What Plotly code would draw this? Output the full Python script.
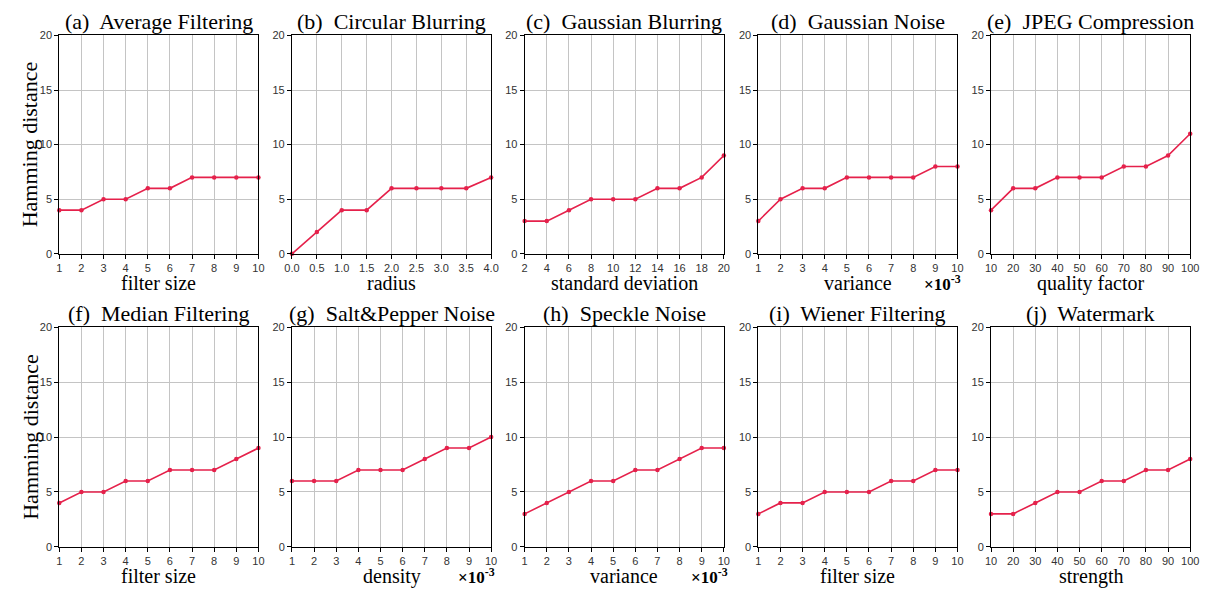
import plotly.graph_objects as go

W, H = 1212, 592

titles = ["(a)\u00a0 Average Filtering", "(b)\u00a0 Circular Blurring", "(c)\u00a0 Gaussian Blurring",
          "(d)\u00a0 Gaussian Noise", "(e)\u00a0 JPEG Compression", "(f)\u00a0 Median Filtering",
          "(g)\u00a0 Salt&amp;Pepper Noise", "(h)\u00a0 Speckle Noise", "(i)\u00a0 Wiener Filtering",
          "(j)\u00a0 Watermark"]
xlabels = ["filter size", "radius", "standard deviation", "variance", "quality factor",
           "filter size", "density", "variance", "filter size", "strength"]
scaled = [False, False, False, True, False, False, True, True, False, False]

x_a = [1, 2, 3, 4, 5, 6, 7, 8, 9, 10]
x_b = [0.0, 0.5, 1.0, 1.5, 2.0, 2.5, 3.0, 3.5, 4.0]
x_c = [2, 4, 6, 8, 10, 12, 14, 16, 18, 20]
x_d = [1, 2, 3, 4, 5, 6, 7, 8, 9, 10]
x_e = [10, 20, 30, 40, 50, 60, 70, 80, 90, 100]
x_f = [1, 2, 3, 4, 5, 6, 7, 8, 9, 10]
x_g = [1, 2, 3, 4, 5, 6, 7, 8, 9, 10]
x_h = [1, 2, 3, 4, 5, 6, 7, 8, 9, 10]
x_i = [1, 2, 3, 4, 5, 6, 7, 8, 9, 10]
x_j = [10, 20, 30, 40, 50, 60, 70, 80, 90, 100]

y_a = [4, 4, 5, 5, 6, 6, 7, 7, 7, 7]
y_b = [0, 2, 4, 4, 6, 6, 6, 6, 7]
y_c = [3, 3, 4, 5, 5, 5, 6, 6, 7, 9]
y_d = [3, 5, 6, 6, 7, 7, 7, 7, 8, 8]
y_e = [4, 6, 6, 7, 7, 7, 8, 8, 9, 11]
y_f = [4, 5, 5, 6, 6, 7, 7, 7, 8, 9]
y_g = [6, 6, 6, 7, 7, 7, 8, 9, 9, 10]
y_h = [3, 4, 5, 6, 6, 7, 7, 8, 9, 9]
y_i = [3, 4, 4, 5, 5, 5, 6, 6, 7, 7]
y_j = [3, 3, 4, 5, 5, 6, 6, 7, 7, 8]

xs = [x_a, x_b, x_c, x_d, x_e, x_f, x_g, x_h, x_i, x_j]
ys = [y_a, y_b, y_c, y_d, y_e, y_f, y_g, y_h, y_i, y_j]
xtick_text_b = ["0.0", "0.5", "1.0", "1.5", "2.0", "2.5", "3.0", "3.5", "4.0"]

ytitle = "Hamming distance"
yticks = [0, 5, 10, 15, 20]

LINE = "#e5214b"
SERIF = "Liberation Serif, Times New Roman, serif"
TICKF = "Liberation Sans Narrow, Liberation Sans, Arial, sans-serif"

lefts = [52, 288, 524, 761, 997]
pw = 202
rows = [(30, 253), (328, 552)]

fig = go.Figure()
layout = dict(width=W, height=H, margin=dict(l=0, r=0, t=0, b=0),
              paper_bgcolor="white", plot_bgcolor="white", showlegend=False)
annotations = []

for k in range(10):
    r, c = divmod(k, 5)
    top, bot = rows[r]
    x0 = lefts[c]
    xd = [x0 / W, (x0 + pw) / W]
    yd = [1 - bot / H, 1 - top / H]
    n = k + 1
    xa = "xaxis" if n == 1 else f"xaxis{n}"
    ya = "yaxis" if n == 1 else f"yaxis{n}"
    xr = "x" if n == 1 else f"x{n}"
    yr = "y" if n == 1 else f"y{n}"
    xv = xs[k]
    fig.add_trace(go.Scatter(x=xv, y=ys[k], xaxis=xr, yaxis=yr, mode="lines+markers",
                             line=dict(color=LINE, width=1.6),
                             marker=dict(color=LINE, size=4.5), cliponaxis=False))
    xax = dict(domain=xd, anchor=yr, range=[xv[0], xv[-1]], tickmode="array",
               tickvals=xv, showgrid=True, gridcolor="#c4c4c4", gridwidth=1,
               showline=True, linecolor="black", linewidth=1, mirror=True,
               ticks="outside", ticklen=4, tickcolor="black",
               tickfont=dict(family=TICKF, size=11, color="#333333"),
               zeroline=False, fixedrange=True)
    if k == 1:
        xax["ticktext"] = xtick_text_b
    layout[xa] = xax
    layout[ya] = dict(domain=yd, anchor=xr, range=[0, 20], tickmode="array",
                      tickvals=yticks, showgrid=True, gridcolor="#c4c4c4", gridwidth=1,
                      showline=True, linecolor="black", linewidth=1, mirror=True,
                      ticks="outside", ticklen=4, tickcolor="black",
                      tickfont=dict(family=TICKF, size=11, color="#333333"),
                      zeroline=False, fixedrange=True)
    cx = (x0 + pw / 2) / W
    annotations.append(dict(text=titles[k], x=cx, y=1 - (top - 14) / H, xref="paper",
                            yref="paper", showarrow=False, xanchor="center", yanchor="middle",
                            font=dict(family=SERIF, size=22, color="black")))
    annotations.append(dict(text=xlabels[k], x=cx, y=1 - (bot + 30) / H, xref="paper",
                            yref="paper", showarrow=False, xanchor="center", yanchor="middle",
                            font=dict(family=SERIF, size=20, color="black")))
    if scaled[k]:
        annotations.append(dict(text="<b>×10<sup>-3</sup></b>", x=(x0 + pw + 6) / W,
                                y=1 - (bot + 30) / H, xref="paper", yref="paper",
                                showarrow=False, xanchor="right", yanchor="middle",
                                font=dict(family=SERIF, size=17, color="black")))

for top, bot in rows:
    annotations.append(dict(text=ytitle, x=22 / W, y=1 - ((top + bot) / 2) / H, xref="paper",
                            yref="paper", showarrow=False, textangle=-90,
                            xanchor="center", yanchor="middle",
                            font=dict(family=SERIF, size=22, color="black")))

layout["annotations"] = annotations
fig.update_layout(**layout)
fig.write_html("out.html")
